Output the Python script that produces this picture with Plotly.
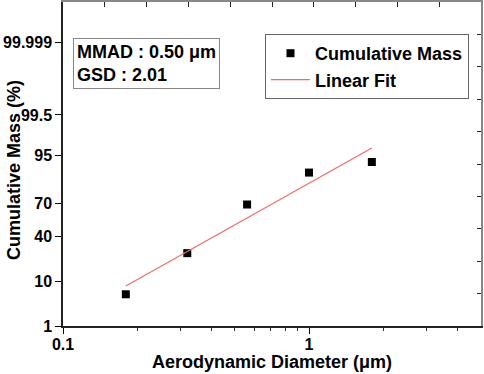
import numpy as np
import plotly.graph_objects as go
from statistics import NormalDist

# ---- data ----
diameter_um = [0.18, 0.32, 0.56, 1.0, 1.8]
cum_mass_pct = [5.6, 26.3, 69.0, 89.2, 93.1]
y_tick_pct = [1, 10, 40, 70, 95, 99.5, 99.999]
y_tick_text = ["1", "10", "40", "70", "95", "99.5", "99.999"]
x_tick_vals = [0.1, 1]
x_tick_text = ["0.1", "1"]
x_minor_vals = [0.2, 0.3, 0.4, 0.5, 0.6, 0.7, 0.8, 0.9, 2, 3, 4]
mmad_text = "MMAD : 0.50 \u03bcm"
gsd_text = "GSD : 2.01"
x_title = "Aerodynamic Diameter (\u03bcm)"
y_title = "Cumulative Mass (%)"

nd = NormalDist()
def probit(p):
    return nd.inv_cdf(p / 100.0)

z_pts = [probit(p) for p in cum_mass_pct]
lx = np.log10(diameter_um)
slope, icpt = np.polyfit(lx, z_pts, 1)
fit_x = [diameter_um[0], diameter_um[-1]]
fit_z = [slope * np.log10(v) + icpt for v in fit_x]

FONT = "Liberation Sans, Arial, sans-serif"
W, H = 484, 374
ML, MR, MT, MB = 63, 3, 2, 48
PW, PH = W - ML - MR, H - MT - MB

fig = go.Figure()
fig.add_trace(go.Scatter(
    x=diameter_um, y=z_pts, mode="markers", name="Cumulative Mass",
    marker=dict(symbol="square", size=8, color="black"),
))
fig.add_trace(go.Scatter(
    x=fit_x, y=fit_z, mode="lines", name="Linear Fit",
    line=dict(color="#f46a6a", width=1.2),
))
fig.add_trace(go.Scatter(x=[], y=[], xaxis="x2", yaxis="y2",
                         showlegend=False, hoverinfo="skip"))

fig.update_layout(
    width=W, height=H,
    margin=dict(l=ML, r=MR, t=MT, b=MB, autoexpand=False),
    paper_bgcolor="white", plot_bgcolor="white",
    font=dict(family=FONT, color="black"),
    showlegend=True,
    legend=dict(
        x=(265 - ML) / PW, y=(H - MB - 34) / PH, xanchor="left", yanchor="top",
        bordercolor="#666", borderwidth=1, bgcolor="white",
        font=dict(size=18, family=FONT, color="black", weight="bold"),
        tracegroupgap=0, itemwidth=39,
    ),
    xaxis=dict(
        type="log", range=[-1, np.log10(5)], automargin=False,
        tickvals=x_tick_vals, ticktext=x_tick_text,
        ticks="outside", ticklen=6, tickwidth=1, tickcolor="black",
        ticklabelstandoff=-3,
        minor=dict(tickvals=x_minor_vals, ticks="outside", ticklen=3, tickcolor="#333"),
        showline=True, linecolor="#222", linewidth=1.5,
        showgrid=False, zeroline=False,
        tickfont=dict(size=16, family=FONT, weight="bold"),
    ),
    yaxis=dict(
        range=[probit(1), probit(99.99999)], automargin=False,
        tickvals=[probit(p) for p in y_tick_pct], ticktext=y_tick_text,
        ticks="outside", ticklen=6, tickwidth=1, tickcolor="black",
        showline=True, linecolor="#222", linewidth=1.5,
        showgrid=False, zeroline=False,
        tickfont=dict(size=16, family=FONT, weight="bold"),
    ),
    xaxis2=dict(
        overlaying="x", side="top", anchor="y", range=[0, 10], dtick=1,
        ticks="inside", ticklen=5, tickcolor="#222", showticklabels=False,
        showline=True, linecolor="#888", linewidth=1.5, automargin=False,
        showgrid=False, zeroline=False,
    ),
    yaxis2=dict(
        overlaying="y", side="right", anchor="x", range=[0, 10], dtick=1,
        ticks="inside", ticklen=4, tickcolor="#222", showticklabels=False,
        showline=True, linecolor="#888", linewidth=1.5, automargin=False,
        showgrid=False, zeroline=False,
    ),
)

# axis titles
fig.add_annotation(
    xref="paper", yref="paper", x=0.5, y=-(362 - (H - MB)) / PH,
    xanchor="center", yanchor="middle", text=x_title, showarrow=False,
    font=dict(size=18, family=FONT, color="black", weight="bold"),
)
fig.add_annotation(
    xref="paper", yref="paper", x=-(ML - 14) / PW, y=(H - MB - 170) / PH,
    xanchor="center", yanchor="middle", text=y_title, showarrow=False, textangle=-90,
    font=dict(size=18, family=FONT, color="black", weight="bold"),
)

fig.add_annotation(
    xref="paper", yref="paper", x=(73 - ML) / PW, y=(H - MB - 38) / PH,
    xanchor="left", yanchor="top",
    text=mmad_text + "<br>" + gsd_text, align="left", showarrow=False,
    font=dict(size=18, family=FONT, color="black", weight="bold"),
    bordercolor="#888", borderwidth=1, borderpad=3, bgcolor="white",
)

fig.write_html("out.html", config={"displayModeBar": False},
               post_script="document.body.style.margin='0';")
